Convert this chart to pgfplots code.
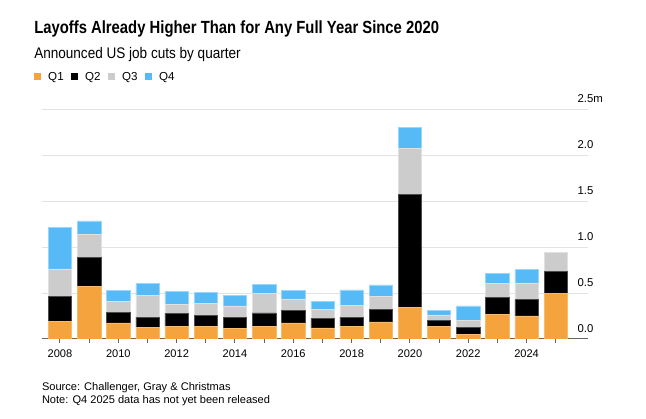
\documentclass[border=0pt]{standalone}
\usepackage{pgfplots}
\pgfplotsset{compat=1.18}
\usepackage{pgfplotstable}
\usepackage{fontspec}
\setmainfont{Liberation Sans}
\newfontfamily\titlefont[FakeStretch=0.843]{Liberation Sans}
\newfontfamily\subfont[FakeStretch=0.884]{Liberation Sans}
\definecolor{qone}{HTML}{F5A33D}
\definecolor{qtwo}{HTML}{000000}
\definecolor{qthree}{HTML}{CCCCCC}
\definecolor{qfour}{HTML}{56BAF7}
\pgfplotstableread{
year q1 q2 q3
2008 0.190 0.277 0.294
2009 0.572 0.319 0.246
2010 0.174 0.116 0.116
2011 0.127 0.112 0.235
2012 0.137 0.138 0.105
2013 0.137 0.116 0.131
2014 0.115 0.124 0.120
2015 0.134 0.149 0.210
2016 0.174 0.134 0.127
2017 0.120 0.101 0.098
2018 0.134 0.105 0.123
2019 0.185 0.141 0.134
2020 0.340 1.236 0.500
2021 0.141 0.065 0.055
2022 0.050 0.077 0.079
2023 0.264 0.188 0.153
2024 0.250 0.177 0.182
2025 0.496 0.239 0.207
}\datatable
\pgfplotstableread{
year q4
2008 0.456
2009 0.146
2010 0.119
2011 0.127
2012 0.138
2013 0.119
2014 0.119
2015 0.101
2016 0.090
2017 0.094
2018 0.171
2019 0.127
2020 0.221
2021 0.054
2022 0.153
2023 0.112
2024 0.144
}\qfourtable
\begin{document}
\begin{tikzpicture}
\path[use as bounding box] (0pt,0pt) rectangle (484.5pt,313.5pt);
\begin{axis}[
  at={(31.5pt,59.25pt)}, anchor=south west,
  scale only axis, width=409.5pt, height=172.5pt,
  ybar stacked, bar width=0.8,
  xmin=2007.383, xmax=2026.107, ymin=0, ymax=2.5,
  separate axis lines,
  axis x line*=bottom,
  axis y line*=right,
  x axis line style={draw=black!60, line width=0.75pt, -},
  y axis line style={draw=none},
  ymajorgrids, grid style={draw=black!11, line width=0.75pt},
  ytick={0,0.5,1,1.5,2,2.5},
  yticklabels={0.0,0.5,1.0,1.5,2.0,2.5\rlap{m}},
  ytick style={/pgfplots/major tick length=0pt},
  yticklabel style={anchor=base east, inner xsep=0pt, yshift=4.7pt, font=\fontsize{8.5}{10}\selectfont},
  xtick={2008,2010,...,2024},
  minor xtick={2009,2011,...,2025},
  xticklabels={2008,2010,2012,2014,2016,2018,2020,2022,2024},
  xtick style={draw=black!60, line width=0.75pt, /pgfplots/major tick length=3pt, /pgfplots/minor tick length=3pt},
  xminorgrids=false, xmajorgrids=false,
  tick align=outside,
  xticklabel style={font=\fontsize{8.3}{10}\selectfont},
  /pgf/number format/assume math mode=true,
  legend style={at={(-0.0147,1.139)}, anchor=west, draw=none, fill=none,
    legend columns=4, font=\fontsize{8.7}{10}\selectfont, inner sep=0pt,
    /tikz/every even column/.append style={column sep=3.6pt}},
  legend image code/.code={\fill[#1,draw=none] (0pt,-2.6pt) rectangle (5.25pt,3.2pt); \path[draw=none,fill=none] (0pt,0pt) -- (8.5pt,0pt);},
]
\addplot[fill=qone, draw=qone!75!white, line width=0.4pt] table[x=year, y=q1] {\datatable};
\addplot[fill=qtwo, draw=black!70!white, line width=0.4pt] table[x=year, y=q2] {\datatable};
\addplot[fill=qthree, draw=qthree!60!white, line width=0.4pt] table[x=year, y=q3] {\datatable};
\addplot[fill=qfour, draw=qfour!60!white, line width=0.4pt] table[x=year, y=q4] {\qfourtable};
\legend{Q1,Q2,Q3,Q4}
\end{axis}
\node[anchor=base west, inner sep=0pt] at (25.5pt,288.2pt) {\titlefont\bfseries\fontsize{13.2}{15}\selectfont Layoffs Already Higher Than for Any Full Year Since 2020};
\node[anchor=base west, inner sep=0pt] at (25.5pt,269.5pt) {\subfont\fontsize{11.5}{13}\selectfont Announced US job cuts by quarter};
\node[anchor=base west, inner sep=0pt] at (31.3pt,21pt) {\fontsize{8.3}{10}\selectfont Source: Challenger, Gray \& Christmas};
\node[anchor=base west, inner sep=0pt] at (31.3pt,11pt) {\fontsize{8.3}{10}\selectfont Note: Q4 2025 data has not yet been released};
\end{tikzpicture}
\end{document}
